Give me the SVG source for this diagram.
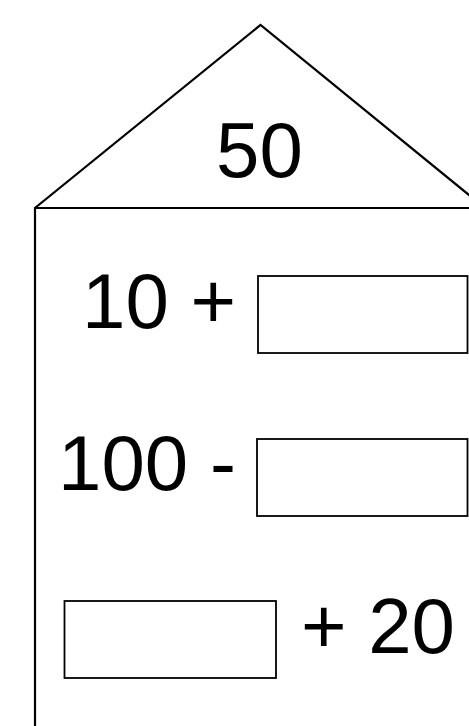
<svg xmlns="http://www.w3.org/2000/svg" width="469" height="726" viewBox="0 0 469 726">
<style>
.ln{fill:none;stroke:#000;stroke-width:2.2}
.bx{fill:#fff;stroke:#000;stroke-width:1.8}
.t{font-family:"Liberation Sans",Arial,sans-serif;font-size:78px;fill:#000}
</style>
<rect width="469" height="726" fill="#fff"/>
<g id="house">
<polyline class="ln" points="35,726 35,208 260.5,25 485,208 35,208"/>
</g>
<g id="roof-label"><text class="t" x="259.5" y="177" text-anchor="middle">50</text></g>
<g id="row1">
<text class="t" x="236" y="328" text-anchor="end">10 +</text>
<rect class="bx" x="258" y="276" width="209.5" height="77"/>
</g>
<g id="row2">
<text class="t" x="236" y="490" text-anchor="end" textLength="178">100 -</text>
<rect class="bx" x="257" y="439" width="210.5" height="77"/>
</g>
<g id="row3">
<rect class="bx" x="64.5" y="601" width="211.5" height="77"/>
<text class="t" x="301" y="653">+ 20</text>
</g>
<g id="connectors"></g>
</svg>
